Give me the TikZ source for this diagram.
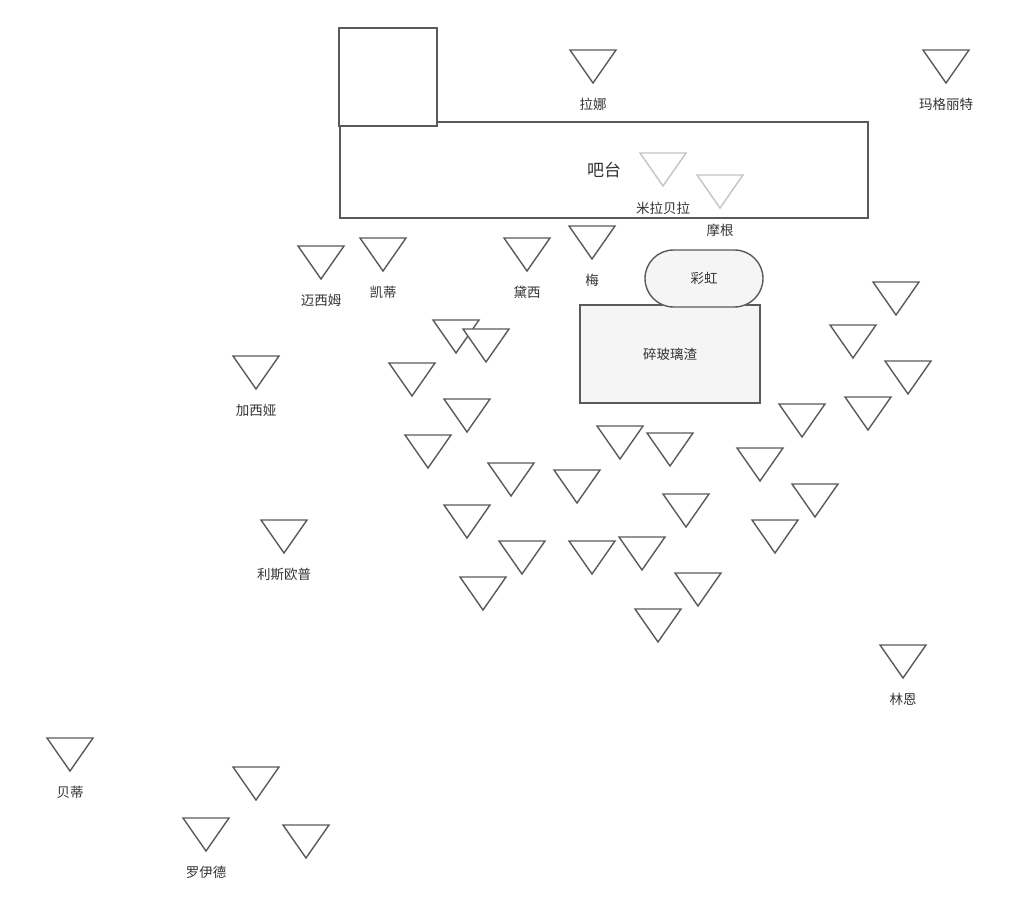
\documentclass[tikz,border=0pt]{standalone}
\usepackage{fontspec}
\setmainfont{Noto Sans CJK SC}
\usetikzlibrary{calc}
\definecolor{edgegray}{HTML}{5A5A5A}
\definecolor{ghostgray}{HTML}{C4C4C4}
\definecolor{boxfill}{HTML}{F5F5F5}
\definecolor{textgray}{HTML}{333333}

\begin{document}
\begin{tikzpicture}[x=1pt, y=-1pt, line join=miter,
  seat/.style={draw=edgegray, line width=1.4pt, fill=white},
  ghost/.style={draw=ghostgray, line width=1.4pt, fill=white},
  box/.style={draw=edgegray, line width=1.4pt, inner sep=0pt, text=textgray,
              font=\fontsize{13.5}{13.5}\selectfont},
  tag/.style={text=textgray, inner sep=0pt, font=\fontsize{13.5}{13.5}\selectfont}]
  \useasboundingbox (0,0) rectangle (1010,909);

  % Bar counter and the small store room on its left end
  \node[box, fill=white, minimum width=528pt, minimum height=96pt,
        font=\fontsize{17}{17}\selectfont] (bar) at (604,170) {吧台};
  \node[box, fill=white, minimum width=98pt, minimum height=98pt] (store) at (388,77) {};

  % Staff behind the bar (light gray)
  \foreach \cx/\ty/\who [count=\i] in {663/153/米拉贝拉, 720/175/摩根}{
    \draw[ghost] (\cx-23,\ty) -- (\cx+23,\ty) -- (\cx,\ty+33) -- cycle;
    \node[tag] (staff-\i) at (\cx,\ty+55) {\who};
  }

  % Glass shards area and the performer on top of it
  \node[box, fill=boxfill, minimum width=180pt, minimum height=98pt] (glass) at (670,354) {碎玻璃渣};
  \node[box, fill=boxfill, minimum width=118pt, minimum height=57pt,
        rounded corners=28.5pt] (rainbow) at (704,278.5) {彩虹};

  % Named guests
  \foreach \cx/\ty/\who [count=\i] in {593/50/拉娜, 946/50/玛格丽特, 321/246/迈西姆,
      383/238/凯蒂, 527/238/黛西, 592/226/梅, 256/356/加西娅, 284/520/利斯欧普,
      903/645/林恩, 70/738/贝蒂, 206/818/罗伊德}{
    \draw[seat] (\cx-23,\ty) -- (\cx+23,\ty) -- (\cx,\ty+33) -- cycle;
    \node[tag] (guest-\i) at (\cx,\ty+54) {\who};
  }

  % The crowd (no names)
  \foreach \cx/\ty in {456/320, 486/329, 412/363, 467/399, 428/435, 511/463,
      467/505, 522/541, 483/577, 620/426, 670/433, 577/470, 686/494, 592/541,
      642/537, 698/573, 658/609, 896/282, 853/325, 908/361, 868/397, 802/404,
      760/448, 815/484, 775/520, 256/767, 306/825}{
    \draw[seat] (\cx-23,\ty) -- (\cx+23,\ty) -- (\cx,\ty+33) -- cycle;
  }
\end{tikzpicture}
\end{document}
